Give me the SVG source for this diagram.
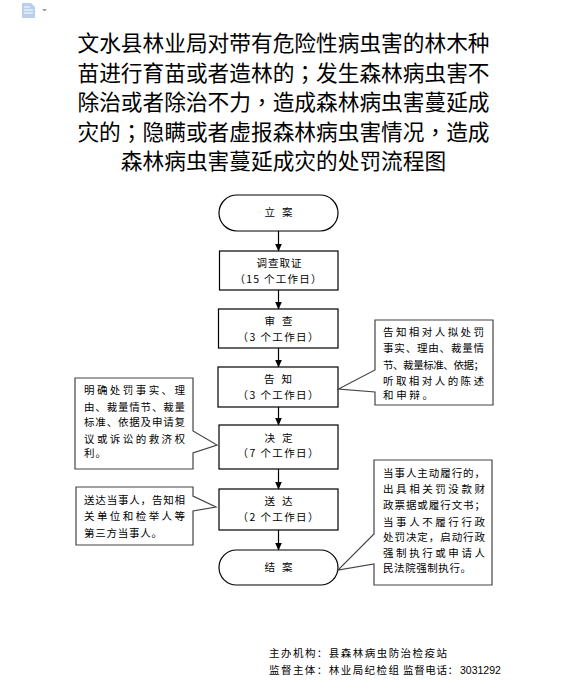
<svg xmlns="http://www.w3.org/2000/svg" width="576" height="693" viewBox="0 0 576 693">
<style>
text{font-family:"Noto Sans CJK SC","Noto Sans",sans-serif;fill:#000}
.t{font-size:21.7px;text-anchor:middle}
.p{font-family:"Noto Sans CJK TC","Noto Sans",sans-serif}
.n{font-size:10.5px;text-anchor:middle}
.c{font-size:10.5px}
.f{font-size:10.5px}
.d{font-family:"Liberation Sans",sans-serif}
.s{fill:#fff;stroke:#000;stroke-width:1.2}
.g{fill:#fff;stroke:#444;stroke-width:1.2}
.l{fill:none;stroke:#000;stroke-width:1.2;marker-end:url(#a)}
</style>
<defs><marker id="a" markerUnits="userSpaceOnUse" markerWidth="8" markerHeight="7" refX="7.5" refY="3.5" orient="auto"><path d="M0 0L8 3.5L0 7Z" fill="#000"/></marker></defs>
<rect width="576" height="693" fill="#fff"/>
<g id="icon"><path d="M22 3H31L35 7V18H22Z" fill="#b9cfec"/><path d="M24 7H30M24 10H33M24 13H33" stroke="#fff" stroke-width="1"/><path d="M42 9H47L44.500 11.500Z" fill="#999"/></g>
<g id="title">
<text class="t" x="283.500" y="51">文水县林业局对带有危险性病虫害的林木种</text>
<text class="t" x="283.500" y="80.500">苗进行育苗或者造林的<tspan class="p">&#xFF1B;</tspan>发生森林病虫害不</text>
<text class="t" x="283.500" y="110">除治或者除治不力<tspan class="p">&#xFF0C;</tspan>造成森林病虫害蔓延成</text>
<text class="t" x="283.500" y="139.500">灾的<tspan class="p">&#xFF1B;</tspan>隐瞒或者虚报森林病虫害情况<tspan class="p">&#xFF0C;</tspan>造成</text>
<text class="t" x="283.500" y="169">森林病虫害蔓延成灾的处罚流程图</text>
</g>
<g id="connectors">
<path class="l" d="M278.500 231V251"/>
<path class="l" d="M278.500 290V309"/>
<path class="l" d="M278.500 348V367"/>
<path class="l" d="M278.500 407V425"/>
<path class="l" d="M278.500 469V489"/>
<path class="l" d="M278.500 530V550"/>
</g>
<g id="n1"><rect class="s" x="219" y="195" width="119" height="36" rx="18"/><text class="n" x="278.500" y="216" textLength="28">立 案</text></g>
<g id="n2"><rect class="s" x="219.500" y="251" width="118.500" height="39"/><text class="n" x="279" y="267" textLength="45">调查取证</text><text class="n" x="278" y="283" textLength="87">&#xFF08;15 个工作日&#xFF09;</text></g>
<g id="n3"><rect class="s" x="218.500" y="309" width="119.500" height="39"/><text class="n" x="278.500" y="325" textLength="28">审 查</text><text class="n" x="278" y="341" textLength="81">&#xFF08;3 个工作日&#xFF09;</text></g>
<g id="n4"><rect class="s" x="218" y="367" width="120" height="40"/><text class="n" x="278" y="383" textLength="28">告 知</text><text class="n" x="278" y="399" textLength="81">&#xFF08;3 个工作日&#xFF09;</text></g>
<g id="n5"><rect class="s" x="219" y="425" width="119" height="44"/><text class="n" x="278.500" y="442" textLength="28">决 定</text><text class="n" x="278" y="457" textLength="81">&#xFF08;7 个工作日&#xFF09;</text></g>
<g id="n6"><rect class="s" x="219" y="489" width="119" height="41"/><text class="n" x="278.500" y="505" textLength="28">送 达</text><text class="n" x="278" y="521" textLength="81">&#xFF08;2 个工作日&#xFF09;</text></g>
<g id="n7"><rect class="s" x="219" y="550" width="119" height="35" rx="17.500"/><text class="n" x="278.500" y="571" textLength="28">结 案</text></g>
<g id="c1"><path class="g" d="M375 320H493V405H375V392L338.500 389L375 370Z"/>
<text class="c" x="383" y="336" textLength="101">告知相对人拟处罚</text>
<text class="c" x="383" y="352" textLength="101">事实、理由、裁量情</text>
<text class="c" x="383" y="369" textLength="101">节、裁量标准、依据&#xFF1B;</text>
<text class="c" x="383" y="385" textLength="101">听取相对人的陈述</text>
<text class="c" x="383" y="399" textLength="50">和申辩。</text></g>
<g id="c2"><path class="g" d="M75 378H193V431L217 445L193 453V469H75Z"/>
<text class="c" x="84" y="394" textLength="101">明确处罚事实、理</text>
<text class="c" x="84" y="411" textLength="101">由、裁量情节、裁量</text>
<text class="c" x="84" y="426" textLength="101">标准、依据及申请复</text>
<text class="c" x="84" y="443" textLength="101">议或诉讼的救济权</text>
<text class="c" x="84" y="457" textLength="22">利。</text></g>
<g id="c3"><path class="g" d="M76 487H193V496L216 507L193 511V545H76Z"/>
<text class="c" x="84" y="504" textLength="101">送达当事人&#xFF0C;告知相</text>
<text class="c" x="84" y="520" textLength="101">关单位和检举人等</text>
<text class="c" x="84" y="537" textLength="78">第三方当事人。</text></g>
<g id="c4"><path class="g" d="M374 460H492V585H374V564L338 570L374 534Z"/>
<text class="c" x="383" y="477" textLength="102">当事人主动履行的&#xFF0C;</text>
<text class="c" x="383" y="493" textLength="102">出具相关罚没款财</text>
<text class="c" x="383" y="509" textLength="102">政票据或履行文书&#xFF1B;</text>
<text class="c" x="383" y="526" textLength="102">当事人不履行行政</text>
<text class="c" x="383" y="541" textLength="102">处罚决定&#xFF0C;启动行政</text>
<text class="c" x="383" y="557" textLength="102">强制执行或申请人</text>
<text class="c" x="383" y="572" textLength="88">民法院强制执行。</text></g>
<g id="footer">
<text class="f" x="269" y="657" textLength="178">主办机构&#xFF1A;县森林病虫防治检疫站</text>
<text class="f" x="269" y="674" textLength="130">监督主体&#xFF1A;林业局纪检组</text>
<text class="f" x="403" y="674" textLength="55">监督电话&#xFF1A;</text>
<text class="f d" x="460" y="674">3031292</text>
</g>
</svg>
